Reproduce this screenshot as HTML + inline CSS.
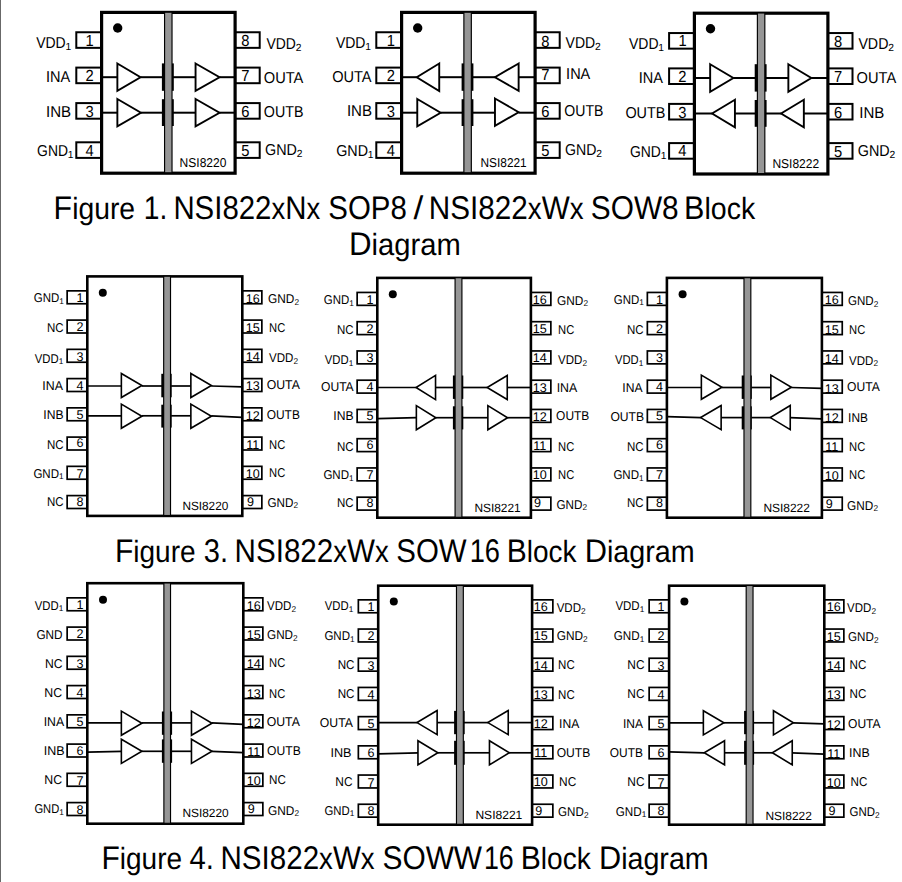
<!DOCTYPE html>
<html lang="en">
<head>
<meta charset="utf-8">
<title>NSI822x Block Diagrams</title>
<style>
html,body{margin:0;padding:0;background:#fff;}
body{width:902px;height:882px;overflow:hidden;position:relative;}
svg{position:absolute;left:0;top:0;display:block;}
svg text{font-family:"Liberation Sans",sans-serif;fill:#000;text-rendering:geometricPrecision;}
.edge{position:absolute;left:0;top:0;width:1px;height:882px;background:#686868;}
</style>
</head>
<body>
<svg width="902" height="882" viewBox="0 0 902 882">
<rect x="76.3" y="32.25" width="25.3" height="15.6" fill="#fff" stroke="#000" stroke-width="2"/>
<rect x="76.3" y="67.6" width="25.3" height="15.6" fill="#fff" stroke="#000" stroke-width="2"/>
<rect x="76.3" y="103.1" width="25.3" height="15.6" fill="#fff" stroke="#000" stroke-width="2"/>
<rect x="76.3" y="142.3" width="25.3" height="15.6" fill="#fff" stroke="#000" stroke-width="2"/>
<rect x="235.1" y="32.25" width="24.6" height="15.6" fill="#fff" stroke="#000" stroke-width="2"/>
<rect x="235.1" y="67.6" width="24.6" height="15.6" fill="#fff" stroke="#000" stroke-width="2"/>
<rect x="235.1" y="103.1" width="24.6" height="15.6" fill="#fff" stroke="#000" stroke-width="2"/>
<rect x="235.1" y="142.3" width="24.6" height="15.6" fill="#fff" stroke="#000" stroke-width="2"/>
<rect x="101.6" y="12.4" width="133.5" height="160.8" fill="#fff" stroke="#000" stroke-width="3.2"/>
<circle cx="117.7" cy="28" r="4.7" fill="#000"/>
<line x1="101.6" y1="77.2" x2="117.7" y2="77.2" stroke="#000" stroke-width="2"/>
<line x1="140.5" y1="77.2" x2="164" y2="77.2" stroke="#000" stroke-width="2"/>
<line x1="172.6" y1="77.2" x2="195.9" y2="77.2" stroke="#000" stroke-width="2"/>
<line x1="219.5" y1="77.2" x2="235.1" y2="77.2" stroke="#000" stroke-width="2"/>
<polygon points="117.37,63.46 140.55,77.2 117.37,90.94" fill="#fff" stroke="#000" stroke-width="1.9" stroke-linejoin="miter"/>
<polygon points="195.56,63.46 219.55,77.2 195.56,90.94" fill="#fff" stroke="#000" stroke-width="1.9" stroke-linejoin="miter"/>
<rect x="161.9" y="63.4" width="11.9" height="27.4" fill="#000" stroke="none" stroke-width="0"/>
<line x1="101.6" y1="112.7" x2="117.7" y2="112.7" stroke="#000" stroke-width="2"/>
<line x1="140.9" y1="112.7" x2="164" y2="112.7" stroke="#000" stroke-width="2"/>
<line x1="172.6" y1="112.7" x2="195.9" y2="112.7" stroke="#000" stroke-width="2"/>
<line x1="219.5" y1="112.7" x2="235.1" y2="112.7" stroke="#000" stroke-width="2"/>
<polygon points="117.37,98.96 140.95,112.7 117.37,126.44" fill="#fff" stroke="#000" stroke-width="1.9" stroke-linejoin="miter"/>
<polygon points="195.56,98.96 219.55,112.7 195.56,126.44" fill="#fff" stroke="#000" stroke-width="1.9" stroke-linejoin="miter"/>
<rect x="161.9" y="99.2" width="11.9" height="26.8" fill="#000" stroke="none" stroke-width="0"/>
<rect x="164.57" y="12.2" width="7.45" height="160.6" fill="#969696" stroke="#000" stroke-width="1.15"/>
<text x="36.2" y="47.9" font-size="15.8" textLength="29.5" lengthAdjust="spacingAndGlyphs">VDD</text>
<text x="71.3" y="49.9" font-size="10.3" text-anchor="end">1</text>
<text x="46" y="81.9" font-size="15.8" textLength="24.2" lengthAdjust="spacingAndGlyphs">INA</text>
<text x="46" y="116.9" font-size="15.8" textLength="25.1" lengthAdjust="spacingAndGlyphs">INB</text>
<text x="37.1" y="155.9" font-size="15.8" textLength="30.9" lengthAdjust="spacingAndGlyphs">GND</text>
<text x="73.6" y="157.9" font-size="10.3" text-anchor="end">1</text>
<text x="266.4" y="48.8" font-size="15.8" textLength="29.4" lengthAdjust="spacingAndGlyphs">VDD</text>
<text x="301.4" y="50.8" font-size="10.3" text-anchor="end">2</text>
<text x="263.8" y="82.6" font-size="15.8" textLength="39.6" lengthAdjust="spacingAndGlyphs">OUTA</text>
<text x="263.8" y="116.9" font-size="15.8" textLength="39.6" lengthAdjust="spacingAndGlyphs">OUTB</text>
<text x="265" y="155.4" font-size="15.8" textLength="31.9" lengthAdjust="spacingAndGlyphs">GND</text>
<text x="302.5" y="157.4" font-size="10.3" text-anchor="end">2</text>
<text x="89.7" y="45.6" font-size="16" text-anchor="middle" textLength="8.19" lengthAdjust="spacingAndGlyphs">1</text>
<text x="89.5" y="80.7" font-size="16" text-anchor="middle" textLength="8.19" lengthAdjust="spacingAndGlyphs">2</text>
<text x="89.5" y="116.9" font-size="16" text-anchor="middle" textLength="8.19" lengthAdjust="spacingAndGlyphs">3</text>
<text x="89.5" y="155.6" font-size="16" text-anchor="middle" textLength="8.19" lengthAdjust="spacingAndGlyphs">4</text>
<text x="245.4" y="45.9" font-size="16" text-anchor="middle" textLength="8.19" lengthAdjust="spacingAndGlyphs">8</text>
<text x="245.4" y="81" font-size="16" text-anchor="middle" textLength="8.19" lengthAdjust="spacingAndGlyphs">7</text>
<text x="245.4" y="116.9" font-size="16" text-anchor="middle" textLength="8.19" lengthAdjust="spacingAndGlyphs">6</text>
<text x="245.4" y="155.9" font-size="16" text-anchor="middle" textLength="8.19" lengthAdjust="spacingAndGlyphs">5</text>
<text x="179.6" y="166.9" font-size="12.8" textLength="46.8" lengthAdjust="spacingAndGlyphs">NSI8220</text>
<rect x="376.3" y="32.25" width="25.3" height="15.6" fill="#fff" stroke="#000" stroke-width="2"/>
<rect x="376.3" y="67.6" width="25.3" height="15.6" fill="#fff" stroke="#000" stroke-width="2"/>
<rect x="376.3" y="103.1" width="25.3" height="15.6" fill="#fff" stroke="#000" stroke-width="2"/>
<rect x="376.3" y="142.3" width="25.3" height="15.6" fill="#fff" stroke="#000" stroke-width="2"/>
<rect x="535.1" y="32.25" width="24.6" height="15.6" fill="#fff" stroke="#000" stroke-width="2"/>
<rect x="535.1" y="67.6" width="24.6" height="15.6" fill="#fff" stroke="#000" stroke-width="2"/>
<rect x="535.1" y="103.1" width="24.6" height="15.6" fill="#fff" stroke="#000" stroke-width="2"/>
<rect x="535.1" y="142.3" width="24.6" height="15.6" fill="#fff" stroke="#000" stroke-width="2"/>
<rect x="401.6" y="12.4" width="133.5" height="160.8" fill="#fff" stroke="#000" stroke-width="3.2"/>
<circle cx="417.7" cy="28" r="4.7" fill="#000"/>
<line x1="401.6" y1="77.2" x2="416.8" y2="77.2" stroke="#000" stroke-width="2"/>
<line x1="438.9" y1="77.2" x2="463.3" y2="77.2" stroke="#000" stroke-width="2"/>
<line x1="471.9" y1="77.2" x2="495" y2="77.2" stroke="#000" stroke-width="2"/>
<line x1="518.3" y1="77.2" x2="535.1" y2="77.2" stroke="#000" stroke-width="2"/>
<polygon points="439.23,63.46 416.75,77.2 439.23,90.94" fill="#fff" stroke="#000" stroke-width="1.9" stroke-linejoin="miter"/>
<polygon points="518.63,63.46 494.95,77.2 518.63,90.94" fill="#fff" stroke="#000" stroke-width="1.9" stroke-linejoin="miter"/>
<rect x="461.6" y="63.4" width="11.8" height="27.4" fill="#000" stroke="none" stroke-width="0"/>
<line x1="401.6" y1="112.7" x2="417.6" y2="112.7" stroke="#000" stroke-width="2"/>
<line x1="440.6" y1="112.7" x2="463.3" y2="112.7" stroke="#000" stroke-width="2"/>
<line x1="471.9" y1="112.7" x2="495.3" y2="112.7" stroke="#000" stroke-width="2"/>
<line x1="518.6" y1="112.7" x2="535.1" y2="112.7" stroke="#000" stroke-width="2"/>
<polygon points="417.27,98.96 440.65,112.7 417.27,126.44" fill="#fff" stroke="#000" stroke-width="1.9" stroke-linejoin="miter"/>
<polygon points="494.97,98.46 518.65,112.2 494.97,125.94" fill="#fff" stroke="#000" stroke-width="1.9" stroke-linejoin="miter"/>
<rect x="461.6" y="99.2" width="11.8" height="26.8" fill="#000" stroke="none" stroke-width="0"/>
<rect x="463.88" y="12.2" width="7.45" height="160.6" fill="#969696" stroke="#000" stroke-width="1.15"/>
<text x="335.9" y="47.9" font-size="15.8" textLength="29.6" lengthAdjust="spacingAndGlyphs">VDD</text>
<text x="371.1" y="49.9" font-size="10.3" text-anchor="end">1</text>
<text x="332.2" y="81.9" font-size="15.8" textLength="39.4" lengthAdjust="spacingAndGlyphs">OUTA</text>
<text x="346.9" y="115.7" font-size="15.8" textLength="25.1" lengthAdjust="spacingAndGlyphs">INB</text>
<text x="336.2" y="155.9" font-size="15.8" textLength="31.8" lengthAdjust="spacingAndGlyphs">GND</text>
<text x="373.6" y="157.9" font-size="10.3" text-anchor="end">1</text>
<text x="565.6" y="48.2" font-size="15.8" textLength="29.6" lengthAdjust="spacingAndGlyphs">VDD</text>
<text x="600.8" y="50.2" font-size="10.3" text-anchor="end">2</text>
<text x="566.1" y="79.4" font-size="15.8" textLength="24.2" lengthAdjust="spacingAndGlyphs">INA</text>
<text x="564.3" y="115.7" font-size="15.8" textLength="39.1" lengthAdjust="spacingAndGlyphs">OUTB</text>
<text x="565" y="155.4" font-size="15.8" textLength="31.4" lengthAdjust="spacingAndGlyphs">GND</text>
<text x="602" y="157.4" font-size="10.3" text-anchor="end">2</text>
<text x="390.8" y="45.6" font-size="16" text-anchor="middle" textLength="8.19" lengthAdjust="spacingAndGlyphs">1</text>
<text x="390.8" y="80.7" font-size="16" text-anchor="middle" textLength="8.19" lengthAdjust="spacingAndGlyphs">2</text>
<text x="390.8" y="116.9" font-size="16" text-anchor="middle" textLength="8.19" lengthAdjust="spacingAndGlyphs">3</text>
<text x="390.8" y="155.6" font-size="16" text-anchor="middle" textLength="8.19" lengthAdjust="spacingAndGlyphs">4</text>
<text x="545.4" y="46.5" font-size="16" text-anchor="middle" textLength="8.19" lengthAdjust="spacingAndGlyphs">8</text>
<text x="545.4" y="80.3" font-size="16" text-anchor="middle" textLength="8.19" lengthAdjust="spacingAndGlyphs">7</text>
<text x="545.4" y="116.9" font-size="16" text-anchor="middle" textLength="8.19" lengthAdjust="spacingAndGlyphs">6</text>
<text x="545.4" y="155.9" font-size="16" text-anchor="middle" textLength="8.19" lengthAdjust="spacingAndGlyphs">5</text>
<text x="480.5" y="167.1" font-size="12.8" textLength="46.2" lengthAdjust="spacingAndGlyphs">NSI8221</text>
<rect x="669.1" y="33.05" width="25.3" height="15.6" fill="#fff" stroke="#000" stroke-width="2"/>
<rect x="669.1" y="68.4" width="25.3" height="15.6" fill="#fff" stroke="#000" stroke-width="2"/>
<rect x="669.1" y="103.9" width="25.3" height="15.6" fill="#fff" stroke="#000" stroke-width="2"/>
<rect x="669.1" y="143.1" width="25.3" height="15.6" fill="#fff" stroke="#000" stroke-width="2"/>
<rect x="827.9" y="33.05" width="24.6" height="15.6" fill="#fff" stroke="#000" stroke-width="2"/>
<rect x="827.9" y="68.4" width="24.6" height="15.6" fill="#fff" stroke="#000" stroke-width="2"/>
<rect x="827.9" y="103.9" width="24.6" height="15.6" fill="#fff" stroke="#000" stroke-width="2"/>
<rect x="827.9" y="143.1" width="24.6" height="15.6" fill="#fff" stroke="#000" stroke-width="2"/>
<rect x="694.4" y="13.2" width="133.5" height="160.8" fill="#fff" stroke="#000" stroke-width="3.2"/>
<circle cx="710.5" cy="28.8" r="4.7" fill="#000"/>
<line x1="694.4" y1="78" x2="710.5" y2="78" stroke="#000" stroke-width="2"/>
<line x1="733.3" y1="78" x2="756.8" y2="78" stroke="#000" stroke-width="2"/>
<line x1="765.4" y1="78" x2="788.7" y2="78" stroke="#000" stroke-width="2"/>
<line x1="811.3" y1="78" x2="827.9" y2="78" stroke="#000" stroke-width="2"/>
<polygon points="710.16,64.26 733.35,78 710.16,91.74" fill="#fff" stroke="#000" stroke-width="1.9" stroke-linejoin="miter"/>
<polygon points="788.36,64.26 811.35,78 788.36,91.74" fill="#fff" stroke="#000" stroke-width="1.9" stroke-linejoin="miter"/>
<rect x="754.7" y="64.2" width="11.9" height="27.4" fill="#000" stroke="none" stroke-width="0"/>
<line x1="694.4" y1="113.5" x2="712.1" y2="113.5" stroke="#000" stroke-width="2"/>
<line x1="734.6" y1="113.5" x2="756.8" y2="113.5" stroke="#000" stroke-width="2"/>
<line x1="765.4" y1="113.5" x2="781.1" y2="113.5" stroke="#000" stroke-width="2"/>
<line x1="803.5" y1="113.5" x2="827.9" y2="113.5" stroke="#000" stroke-width="2"/>
<polygon points="734.93,99.76 712.05,113.5 734.93,127.24" fill="#fff" stroke="#000" stroke-width="1.9" stroke-linejoin="miter"/>
<polygon points="803.84,99.76 781.05,113.5 803.84,127.24" fill="#fff" stroke="#000" stroke-width="1.9" stroke-linejoin="miter"/>
<rect x="754.7" y="100" width="11.9" height="26.8" fill="#000" stroke="none" stroke-width="0"/>
<rect x="757.38" y="13" width="7.45" height="160.6" fill="#969696" stroke="#000" stroke-width="1.15"/>
<text x="629" y="48.7" font-size="15.8" textLength="29.5" lengthAdjust="spacingAndGlyphs">VDD</text>
<text x="664.1" y="50.7" font-size="10.3" text-anchor="end">1</text>
<text x="638.8" y="82.7" font-size="15.8" textLength="24.2" lengthAdjust="spacingAndGlyphs">INA</text>
<text x="625.4" y="117.7" font-size="15.8" textLength="40" lengthAdjust="spacingAndGlyphs">OUTB</text>
<text x="629.9" y="156.7" font-size="15.8" textLength="30.9" lengthAdjust="spacingAndGlyphs">GND</text>
<text x="666.4" y="158.7" font-size="10.3" text-anchor="end">1</text>
<text x="858.4" y="49" font-size="15.8" textLength="30" lengthAdjust="spacingAndGlyphs">VDD</text>
<text x="894" y="51" font-size="10.3" text-anchor="end">2</text>
<text x="856.6" y="83.4" font-size="15.8" textLength="39.6" lengthAdjust="spacingAndGlyphs">OUTA</text>
<text x="859.3" y="117.7" font-size="15.8" textLength="25.1" lengthAdjust="spacingAndGlyphs">INB</text>
<text x="857.8" y="156.2" font-size="15.8" textLength="31.9" lengthAdjust="spacingAndGlyphs">GND</text>
<text x="895.3" y="158.2" font-size="10.3" text-anchor="end">2</text>
<text x="682.5" y="46.4" font-size="16" text-anchor="middle" textLength="8.19" lengthAdjust="spacingAndGlyphs">1</text>
<text x="682.3" y="81.5" font-size="16" text-anchor="middle" textLength="8.19" lengthAdjust="spacingAndGlyphs">2</text>
<text x="682.3" y="117.7" font-size="16" text-anchor="middle" textLength="8.19" lengthAdjust="spacingAndGlyphs">3</text>
<text x="682.3" y="156.4" font-size="16" text-anchor="middle" textLength="8.19" lengthAdjust="spacingAndGlyphs">4</text>
<text x="838.2" y="47.3" font-size="16" text-anchor="middle" textLength="8.19" lengthAdjust="spacingAndGlyphs">8</text>
<text x="838.2" y="81.8" font-size="16" text-anchor="middle" textLength="8.19" lengthAdjust="spacingAndGlyphs">7</text>
<text x="838.2" y="117.7" font-size="16" text-anchor="middle" textLength="8.19" lengthAdjust="spacingAndGlyphs">6</text>
<text x="838.2" y="156.7" font-size="16" text-anchor="middle" textLength="8.19" lengthAdjust="spacingAndGlyphs">5</text>
<text x="772.4" y="167.7" font-size="12.8" textLength="46.8" lengthAdjust="spacingAndGlyphs">NSI8222</text>
<rect x="67.15" y="290.85" width="20.15" height="12.9" fill="#fff" stroke="#000" stroke-width="1.7"/>
<rect x="67.15" y="320.1" width="20.15" height="12.9" fill="#fff" stroke="#000" stroke-width="1.7"/>
<rect x="67.15" y="349.35" width="20.15" height="12.9" fill="#fff" stroke="#000" stroke-width="1.7"/>
<rect x="67.15" y="378.6" width="20.15" height="12.9" fill="#fff" stroke="#000" stroke-width="1.7"/>
<rect x="67.15" y="407.85" width="20.15" height="12.9" fill="#fff" stroke="#000" stroke-width="1.7"/>
<rect x="67.15" y="437.1" width="20.15" height="12.9" fill="#fff" stroke="#000" stroke-width="1.7"/>
<rect x="67.15" y="466.35" width="20.15" height="12.9" fill="#fff" stroke="#000" stroke-width="1.7"/>
<rect x="67.15" y="495.6" width="20.15" height="12.9" fill="#fff" stroke="#000" stroke-width="1.7"/>
<rect x="242.3" y="290.85" width="19.55" height="12.9" fill="#fff" stroke="#000" stroke-width="1.7"/>
<rect x="242.3" y="320.1" width="19.55" height="12.9" fill="#fff" stroke="#000" stroke-width="1.7"/>
<rect x="242.3" y="349.35" width="19.55" height="12.9" fill="#fff" stroke="#000" stroke-width="1.7"/>
<rect x="242.3" y="378.6" width="19.55" height="12.9" fill="#fff" stroke="#000" stroke-width="1.7"/>
<rect x="242.3" y="407.85" width="19.55" height="12.9" fill="#fff" stroke="#000" stroke-width="1.7"/>
<rect x="242.3" y="437.1" width="19.55" height="12.9" fill="#fff" stroke="#000" stroke-width="1.7"/>
<rect x="242.3" y="466.35" width="19.55" height="12.9" fill="#fff" stroke="#000" stroke-width="1.7"/>
<rect x="242.3" y="495.6" width="19.55" height="12.9" fill="#fff" stroke="#000" stroke-width="1.7"/>
<rect x="87.3" y="276.4" width="155" height="239.5" fill="#fff" stroke="#000" stroke-width="2.6"/>
<circle cx="102.8" cy="292.7" r="4" fill="#000"/>
<line x1="87.3" y1="386" x2="121.8" y2="386" stroke="#000" stroke-width="1.7"/>
<line x1="141.7" y1="386" x2="163.1" y2="386" stroke="#000" stroke-width="1.7"/>
<line x1="171.1" y1="386" x2="191.3" y2="386" stroke="#000" stroke-width="1.7"/>
<line x1="211.2" y1="386" x2="242.3" y2="386.8" stroke="#000" stroke-width="1.7"/>
<polygon points="121.36,373.44 141.9,385.5 121.36,397.56" fill="#fff" stroke="#000" stroke-width="1.6" stroke-linejoin="miter"/>
<polygon points="190.86,373.44 211.4,385.5 190.86,397.56" fill="#fff" stroke="#000" stroke-width="1.6" stroke-linejoin="miter"/>
<rect x="161.3" y="373.8" width="10.4" height="23.5" fill="#000" stroke="none" stroke-width="0"/>
<line x1="87.3" y1="415.8" x2="121.8" y2="415.8" stroke="#000" stroke-width="1.7"/>
<line x1="141.7" y1="415.8" x2="163.1" y2="415.8" stroke="#000" stroke-width="1.7"/>
<line x1="171.1" y1="415.8" x2="191.3" y2="415.8" stroke="#000" stroke-width="1.7"/>
<line x1="211.2" y1="415.8" x2="242.3" y2="417.3" stroke="#000" stroke-width="1.7"/>
<polygon points="121.36,404.14 141.9,416.2 121.36,428.26" fill="#fff" stroke="#000" stroke-width="1.6" stroke-linejoin="miter"/>
<polygon points="190.86,404.14 211.4,416.2 190.86,428.26" fill="#fff" stroke="#000" stroke-width="1.6" stroke-linejoin="miter"/>
<rect x="161.3" y="404.7" width="10.4" height="22.9" fill="#000" stroke="none" stroke-width="0"/>
<rect x="163.67" y="276.2" width="6.85" height="239.3" fill="#969696" stroke="#000" stroke-width="1.15"/>
<text x="33.8" y="302.3" font-size="12.8" textLength="25.4" lengthAdjust="spacingAndGlyphs">GND</text>
<text x="63.9" y="303.9" font-size="8.3" text-anchor="end">1</text>
<text x="46.9" y="331.9" font-size="12.8" textLength="16.6" lengthAdjust="spacingAndGlyphs">NC</text>
<text x="34.8" y="362.8" font-size="12.8" textLength="23.8" lengthAdjust="spacingAndGlyphs">VDD</text>
<text x="63.3" y="364.4" font-size="8.3" text-anchor="end">1</text>
<text x="42.3" y="390.1" font-size="12.8" textLength="20.6" lengthAdjust="spacingAndGlyphs">INA</text>
<text x="43.3" y="419.1" font-size="12.8" textLength="20.2" lengthAdjust="spacingAndGlyphs">INB</text>
<text x="46.9" y="449.2" font-size="12.8" textLength="16.6" lengthAdjust="spacingAndGlyphs">NC</text>
<text x="33.4" y="477.7" font-size="12.8" textLength="25.6" lengthAdjust="spacingAndGlyphs">GND</text>
<text x="63.7" y="479.3" font-size="8.3" text-anchor="end">1</text>
<text x="46.9" y="505.7" font-size="12.8" textLength="16.6" lengthAdjust="spacingAndGlyphs">NC</text>
<text x="268.1" y="302.9" font-size="12.8" textLength="26.3" lengthAdjust="spacingAndGlyphs">GND</text>
<text x="299.1" y="304.5" font-size="8.3" text-anchor="end">2</text>
<text x="269.1" y="331.9" font-size="12.8" textLength="16.2" lengthAdjust="spacingAndGlyphs">NC</text>
<text x="269.1" y="362.2" font-size="12.8" textLength="24.3" lengthAdjust="spacingAndGlyphs">VDD</text>
<text x="298.1" y="363.8" font-size="8.3" text-anchor="end">2</text>
<text x="266.7" y="389.1" font-size="12.8" textLength="33.2" lengthAdjust="spacingAndGlyphs">OUTA</text>
<text x="266.7" y="418.7" font-size="12.8" textLength="33.2" lengthAdjust="spacingAndGlyphs">OUTB</text>
<text x="269.1" y="449.4" font-size="12.8" textLength="16.2" lengthAdjust="spacingAndGlyphs">NC</text>
<text x="269.1" y="476.7" font-size="12.8" textLength="16.2" lengthAdjust="spacingAndGlyphs">NC</text>
<text x="267.5" y="506.7" font-size="12.8" textLength="25.9" lengthAdjust="spacingAndGlyphs">GND</text>
<text x="298.1" y="508.3" font-size="8.3" text-anchor="end">2</text>
<text x="79.9" y="301.9" font-size="12.6" text-anchor="middle" textLength="7.01" lengthAdjust="spacingAndGlyphs">1</text>
<text x="79.9" y="330.9" font-size="12.6" text-anchor="middle" textLength="7.01" lengthAdjust="spacingAndGlyphs">2</text>
<text x="79.9" y="360.8" font-size="12.6" text-anchor="middle" textLength="7.01" lengthAdjust="spacingAndGlyphs">3</text>
<text x="79.9" y="389.7" font-size="12.6" text-anchor="middle" textLength="7.01" lengthAdjust="spacingAndGlyphs">4</text>
<text x="79.9" y="418.7" font-size="12.6" text-anchor="middle" textLength="7.01" lengthAdjust="spacingAndGlyphs">5</text>
<text x="79.9" y="447.4" font-size="12.6" text-anchor="middle" textLength="7.01" lengthAdjust="spacingAndGlyphs">6</text>
<text x="79.9" y="477.7" font-size="12.6" text-anchor="middle" textLength="7.01" lengthAdjust="spacingAndGlyphs">7</text>
<text x="79.9" y="505.7" font-size="12.6" text-anchor="middle" textLength="7.01" lengthAdjust="spacingAndGlyphs">8</text>
<text x="252.8" y="302.9" font-size="12.6" text-anchor="middle" textLength="14.02" lengthAdjust="spacingAndGlyphs">16</text>
<text x="252.8" y="331.9" font-size="12.6" text-anchor="middle" textLength="14.02" lengthAdjust="spacingAndGlyphs">15</text>
<text x="252.8" y="360.8" font-size="12.6" text-anchor="middle" textLength="14.02" lengthAdjust="spacingAndGlyphs">14</text>
<text x="252.8" y="390.1" font-size="12.6" text-anchor="middle" textLength="14.02" lengthAdjust="spacingAndGlyphs">13</text>
<text x="252.8" y="419.7" font-size="12.6" text-anchor="middle" textLength="14.02" lengthAdjust="spacingAndGlyphs">12</text>
<text x="252.8" y="448.8" font-size="12.6" text-anchor="middle" textLength="13.08" lengthAdjust="spacingAndGlyphs">11</text>
<text x="252.8" y="477.7" font-size="12.6" text-anchor="middle" textLength="14.02" lengthAdjust="spacingAndGlyphs">10</text>
<text x="250.4" y="506" font-size="12.6" text-anchor="middle" textLength="7.01" lengthAdjust="spacingAndGlyphs">9</text>
<text x="182.4" y="509.6" font-size="12" textLength="45.9" lengthAdjust="spacingAndGlyphs">NSI8220</text>
<rect x="357.15" y="292.45" width="20.15" height="12.9" fill="#fff" stroke="#000" stroke-width="1.7"/>
<rect x="357.15" y="321.7" width="20.15" height="12.9" fill="#fff" stroke="#000" stroke-width="1.7"/>
<rect x="357.15" y="350.95" width="20.15" height="12.9" fill="#fff" stroke="#000" stroke-width="1.7"/>
<rect x="357.15" y="380.2" width="20.15" height="12.9" fill="#fff" stroke="#000" stroke-width="1.7"/>
<rect x="357.15" y="409.45" width="20.15" height="12.9" fill="#fff" stroke="#000" stroke-width="1.7"/>
<rect x="357.15" y="438.7" width="20.15" height="12.9" fill="#fff" stroke="#000" stroke-width="1.7"/>
<rect x="357.15" y="467.95" width="20.15" height="12.9" fill="#fff" stroke="#000" stroke-width="1.7"/>
<rect x="357.15" y="497.2" width="20.15" height="12.9" fill="#fff" stroke="#000" stroke-width="1.7"/>
<rect x="530.9" y="292.45" width="19.95" height="12.9" fill="#fff" stroke="#000" stroke-width="1.7"/>
<rect x="530.9" y="321.7" width="19.95" height="12.9" fill="#fff" stroke="#000" stroke-width="1.7"/>
<rect x="530.9" y="350.95" width="19.95" height="12.9" fill="#fff" stroke="#000" stroke-width="1.7"/>
<rect x="530.9" y="380.2" width="19.95" height="12.9" fill="#fff" stroke="#000" stroke-width="1.7"/>
<rect x="530.9" y="409.45" width="19.95" height="12.9" fill="#fff" stroke="#000" stroke-width="1.7"/>
<rect x="530.9" y="438.7" width="19.95" height="12.9" fill="#fff" stroke="#000" stroke-width="1.7"/>
<rect x="530.9" y="467.95" width="19.95" height="12.9" fill="#fff" stroke="#000" stroke-width="1.7"/>
<rect x="530.9" y="497.2" width="19.95" height="12.9" fill="#fff" stroke="#000" stroke-width="1.7"/>
<rect x="377.3" y="277.9" width="153.6" height="239.8" fill="#fff" stroke="#000" stroke-width="2.6"/>
<circle cx="392.8" cy="294.3" r="4" fill="#000"/>
<line x1="377.3" y1="387.5" x2="416.2" y2="387.5" stroke="#000" stroke-width="1.7"/>
<line x1="435.1" y1="387.5" x2="454.5" y2="387.5" stroke="#000" stroke-width="1.7"/>
<line x1="462.5" y1="387.5" x2="487.3" y2="387.5" stroke="#000" stroke-width="1.7"/>
<line x1="506.8" y1="387.5" x2="530.9" y2="387.5" stroke="#000" stroke-width="1.7"/>
<polygon points="435.54,375.44 416,387.5 435.54,399.56" fill="#fff" stroke="#000" stroke-width="1.6" stroke-linejoin="miter"/>
<polygon points="507.24,375.44 487.1,387.5 507.24,399.56" fill="#fff" stroke="#000" stroke-width="1.6" stroke-linejoin="miter"/>
<rect x="452.9" y="375.5" width="10.4" height="23.4" fill="#000" stroke="none" stroke-width="0"/>
<line x1="377.3" y1="418.6" x2="416.8" y2="417.7" stroke="#000" stroke-width="1.7"/>
<line x1="435.7" y1="417.7" x2="454.5" y2="417.7" stroke="#000" stroke-width="1.7"/>
<line x1="462.5" y1="417.7" x2="488.3" y2="417.7" stroke="#000" stroke-width="1.7"/>
<line x1="507.4" y1="417.7" x2="530.9" y2="417.7" stroke="#000" stroke-width="1.7"/>
<polygon points="416.36,405.64 435.9,417.7 416.36,429.76" fill="#fff" stroke="#000" stroke-width="1.6" stroke-linejoin="miter"/>
<polygon points="487.86,405.64 507.6,417.7 487.86,429.76" fill="#fff" stroke="#000" stroke-width="1.6" stroke-linejoin="miter"/>
<rect x="452.9" y="406.3" width="10.4" height="23.1" fill="#000" stroke="none" stroke-width="0"/>
<rect x="455.07" y="277.7" width="6.85" height="239.6" fill="#969696" stroke="#000" stroke-width="1.15"/>
<text x="323.8" y="303.9" font-size="12.8" textLength="25.4" lengthAdjust="spacingAndGlyphs">GND</text>
<text x="353.9" y="305.5" font-size="8.3" text-anchor="end">1</text>
<text x="336.9" y="333.5" font-size="12.8" textLength="16.6" lengthAdjust="spacingAndGlyphs">NC</text>
<text x="324.8" y="364.4" font-size="12.8" textLength="23.8" lengthAdjust="spacingAndGlyphs">VDD</text>
<text x="353.3" y="366" font-size="8.3" text-anchor="end">1</text>
<text x="321" y="391.3" font-size="12.8" textLength="32.7" lengthAdjust="spacingAndGlyphs">OUTA</text>
<text x="333.3" y="420.3" font-size="12.8" textLength="20.2" lengthAdjust="spacingAndGlyphs">INB</text>
<text x="336.9" y="450.8" font-size="12.8" textLength="16.6" lengthAdjust="spacingAndGlyphs">NC</text>
<text x="323.4" y="479.3" font-size="12.8" textLength="25.6" lengthAdjust="spacingAndGlyphs">GND</text>
<text x="353.7" y="480.9" font-size="8.3" text-anchor="end">1</text>
<text x="336.9" y="507.3" font-size="12.8" textLength="16.6" lengthAdjust="spacingAndGlyphs">NC</text>
<text x="557.1" y="304.5" font-size="12.8" textLength="26.3" lengthAdjust="spacingAndGlyphs">GND</text>
<text x="588.1" y="306.1" font-size="8.3" text-anchor="end">2</text>
<text x="558.1" y="333.5" font-size="12.8" textLength="16.2" lengthAdjust="spacingAndGlyphs">NC</text>
<text x="558.1" y="364.2" font-size="12.8" textLength="24.3" lengthAdjust="spacingAndGlyphs">VDD</text>
<text x="587.1" y="365.8" font-size="8.3" text-anchor="end">2</text>
<text x="556.7" y="391.7" font-size="12.8" textLength="20.6" lengthAdjust="spacingAndGlyphs">INA</text>
<text x="556.1" y="419.7" font-size="12.8" textLength="33.2" lengthAdjust="spacingAndGlyphs">OUTB</text>
<text x="558.1" y="451" font-size="12.8" textLength="16.2" lengthAdjust="spacingAndGlyphs">NC</text>
<text x="558.1" y="478.9" font-size="12.8" textLength="16.2" lengthAdjust="spacingAndGlyphs">NC</text>
<text x="556.5" y="508.7" font-size="12.8" textLength="25.9" lengthAdjust="spacingAndGlyphs">GND</text>
<text x="587.1" y="510.3" font-size="8.3" text-anchor="end">2</text>
<text x="369.9" y="303.5" font-size="12.6" text-anchor="middle" textLength="7.01" lengthAdjust="spacingAndGlyphs">1</text>
<text x="369.9" y="332.5" font-size="12.6" text-anchor="middle" textLength="7.01" lengthAdjust="spacingAndGlyphs">2</text>
<text x="369.9" y="362.4" font-size="12.6" text-anchor="middle" textLength="7.01" lengthAdjust="spacingAndGlyphs">3</text>
<text x="369.9" y="391.3" font-size="12.6" text-anchor="middle" textLength="7.01" lengthAdjust="spacingAndGlyphs">4</text>
<text x="369.9" y="420.3" font-size="12.6" text-anchor="middle" textLength="7.01" lengthAdjust="spacingAndGlyphs">5</text>
<text x="369.9" y="449" font-size="12.6" text-anchor="middle" textLength="7.01" lengthAdjust="spacingAndGlyphs">6</text>
<text x="369.9" y="479.3" font-size="12.6" text-anchor="middle" textLength="7.01" lengthAdjust="spacingAndGlyphs">7</text>
<text x="369.9" y="507.3" font-size="12.6" text-anchor="middle" textLength="7.01" lengthAdjust="spacingAndGlyphs">8</text>
<text x="539.8" y="303.9" font-size="12.6" text-anchor="middle" textLength="14.02" lengthAdjust="spacingAndGlyphs">16</text>
<text x="539.8" y="332.9" font-size="12.6" text-anchor="middle" textLength="14.02" lengthAdjust="spacingAndGlyphs">15</text>
<text x="539.8" y="362.4" font-size="12.6" text-anchor="middle" textLength="14.02" lengthAdjust="spacingAndGlyphs">14</text>
<text x="539.8" y="391.7" font-size="12.6" text-anchor="middle" textLength="14.02" lengthAdjust="spacingAndGlyphs">13</text>
<text x="539.8" y="420.7" font-size="12.6" text-anchor="middle" textLength="14.02" lengthAdjust="spacingAndGlyphs">12</text>
<text x="539.8" y="450" font-size="12.6" text-anchor="middle" textLength="13.08" lengthAdjust="spacingAndGlyphs">11</text>
<text x="539.8" y="478.9" font-size="12.6" text-anchor="middle" textLength="14.02" lengthAdjust="spacingAndGlyphs">10</text>
<text x="537.4" y="506.8" font-size="12.6" text-anchor="middle" textLength="7.01" lengthAdjust="spacingAndGlyphs">9</text>
<text x="474.4" y="511.6" font-size="12" textLength="46.3" lengthAdjust="spacingAndGlyphs">NSI8221</text>
<rect x="647.35" y="292.45" width="19.55" height="12.9" fill="#fff" stroke="#000" stroke-width="1.7"/>
<rect x="647.35" y="321.7" width="19.55" height="12.9" fill="#fff" stroke="#000" stroke-width="1.7"/>
<rect x="647.35" y="350.95" width="19.55" height="12.9" fill="#fff" stroke="#000" stroke-width="1.7"/>
<rect x="647.35" y="380.2" width="19.55" height="12.9" fill="#fff" stroke="#000" stroke-width="1.7"/>
<rect x="647.35" y="409.45" width="19.55" height="12.9" fill="#fff" stroke="#000" stroke-width="1.7"/>
<rect x="647.35" y="438.7" width="19.55" height="12.9" fill="#fff" stroke="#000" stroke-width="1.7"/>
<rect x="647.35" y="467.95" width="19.55" height="12.9" fill="#fff" stroke="#000" stroke-width="1.7"/>
<rect x="647.35" y="497.2" width="19.55" height="12.9" fill="#fff" stroke="#000" stroke-width="1.7"/>
<rect x="821.9" y="292.45" width="20.35" height="12.9" fill="#fff" stroke="#000" stroke-width="1.7"/>
<rect x="821.9" y="321.7" width="20.35" height="12.9" fill="#fff" stroke="#000" stroke-width="1.7"/>
<rect x="821.9" y="350.95" width="20.35" height="12.9" fill="#fff" stroke="#000" stroke-width="1.7"/>
<rect x="821.9" y="380.2" width="20.35" height="12.9" fill="#fff" stroke="#000" stroke-width="1.7"/>
<rect x="821.9" y="409.45" width="20.35" height="12.9" fill="#fff" stroke="#000" stroke-width="1.7"/>
<rect x="821.9" y="438.7" width="20.35" height="12.9" fill="#fff" stroke="#000" stroke-width="1.7"/>
<rect x="821.9" y="467.95" width="20.35" height="12.9" fill="#fff" stroke="#000" stroke-width="1.7"/>
<rect x="821.9" y="497.2" width="20.35" height="12.9" fill="#fff" stroke="#000" stroke-width="1.7"/>
<rect x="666.9" y="277.9" width="155" height="239.8" fill="#fff" stroke="#000" stroke-width="2.6"/>
<circle cx="682.6" cy="294.3" r="4" fill="#000"/>
<line x1="666.9" y1="387.5" x2="701.8" y2="387.5" stroke="#000" stroke-width="1.7"/>
<line x1="721.7" y1="387.5" x2="743.4" y2="387.5" stroke="#000" stroke-width="1.7"/>
<line x1="751.4" y1="387.5" x2="771.3" y2="387.5" stroke="#000" stroke-width="1.7"/>
<line x1="791.2" y1="387.5" x2="821.9" y2="388.4" stroke="#000" stroke-width="1.7"/>
<polygon points="701.36,375.14 721.9,387.2 701.36,399.26" fill="#fff" stroke="#000" stroke-width="1.6" stroke-linejoin="miter"/>
<polygon points="770.86,375.14 791.4,387.2 770.86,399.26" fill="#fff" stroke="#000" stroke-width="1.6" stroke-linejoin="miter"/>
<rect x="741.7" y="375.5" width="10.1" height="23.4" fill="#000" stroke="none" stroke-width="0"/>
<line x1="666.9" y1="416.7" x2="700.8" y2="417.6" stroke="#000" stroke-width="1.7"/>
<line x1="720.7" y1="417.6" x2="743.4" y2="417.6" stroke="#000" stroke-width="1.7"/>
<line x1="751.4" y1="417.6" x2="770.5" y2="417.6" stroke="#000" stroke-width="1.7"/>
<line x1="789.8" y1="417.6" x2="821.9" y2="418.8" stroke="#000" stroke-width="1.7"/>
<polygon points="721.14,405.54 700.6,417.6 721.14,429.66" fill="#fff" stroke="#000" stroke-width="1.6" stroke-linejoin="miter"/>
<polygon points="790.24,405.54 770.3,417.6 790.24,429.66" fill="#fff" stroke="#000" stroke-width="1.6" stroke-linejoin="miter"/>
<rect x="741.7" y="406.3" width="10.1" height="23.1" fill="#000" stroke="none" stroke-width="0"/>
<rect x="743.98" y="277.7" width="6.85" height="239.6" fill="#969696" stroke="#000" stroke-width="1.15"/>
<text x="613.8" y="303.5" font-size="12.8" textLength="25.4" lengthAdjust="spacingAndGlyphs">GND</text>
<text x="643.9" y="305.1" font-size="8.3" text-anchor="end">1</text>
<text x="626.9" y="333.5" font-size="12.8" textLength="16.6" lengthAdjust="spacingAndGlyphs">NC</text>
<text x="615" y="364.4" font-size="12.8" textLength="23.6" lengthAdjust="spacingAndGlyphs">VDD</text>
<text x="643.3" y="366" font-size="8.3" text-anchor="end">1</text>
<text x="622.3" y="391.7" font-size="12.8" textLength="20.2" lengthAdjust="spacingAndGlyphs">INA</text>
<text x="610.4" y="420.7" font-size="12.8" textLength="33.7" lengthAdjust="spacingAndGlyphs">OUTB</text>
<text x="626.9" y="450.8" font-size="12.8" textLength="16.6" lengthAdjust="spacingAndGlyphs">NC</text>
<text x="613.4" y="479.3" font-size="12.8" textLength="25.6" lengthAdjust="spacingAndGlyphs">GND</text>
<text x="643.7" y="480.9" font-size="8.3" text-anchor="end">1</text>
<text x="626.9" y="507.3" font-size="12.8" textLength="16.6" lengthAdjust="spacingAndGlyphs">NC</text>
<text x="848.1" y="304.9" font-size="12.8" textLength="25.6" lengthAdjust="spacingAndGlyphs">GND</text>
<text x="878.4" y="306.5" font-size="8.3" text-anchor="end">2</text>
<text x="849.1" y="333.9" font-size="12.8" textLength="16.2" lengthAdjust="spacingAndGlyphs">NC</text>
<text x="849.1" y="364.8" font-size="12.8" textLength="24.2" lengthAdjust="spacingAndGlyphs">VDD</text>
<text x="878" y="366.4" font-size="8.3" text-anchor="end">2</text>
<text x="847.1" y="390.7" font-size="12.8" textLength="32.7" lengthAdjust="spacingAndGlyphs">OUTA</text>
<text x="848.1" y="421.7" font-size="12.8" textLength="19.8" lengthAdjust="spacingAndGlyphs">INB</text>
<text x="849.1" y="451" font-size="12.8" textLength="16.2" lengthAdjust="spacingAndGlyphs">NC</text>
<text x="849.1" y="478.9" font-size="12.8" textLength="16.2" lengthAdjust="spacingAndGlyphs">NC</text>
<text x="847.1" y="509.6" font-size="12.8" textLength="26.2" lengthAdjust="spacingAndGlyphs">GND</text>
<text x="878" y="511.2" font-size="8.3" text-anchor="end">2</text>
<text x="659.5" y="303.5" font-size="12.6" text-anchor="middle" textLength="7.01" lengthAdjust="spacingAndGlyphs">1</text>
<text x="659.5" y="332.5" font-size="12.6" text-anchor="middle" textLength="7.01" lengthAdjust="spacingAndGlyphs">2</text>
<text x="659.5" y="362.4" font-size="12.6" text-anchor="middle" textLength="7.01" lengthAdjust="spacingAndGlyphs">3</text>
<text x="659.5" y="391.3" font-size="12.6" text-anchor="middle" textLength="7.01" lengthAdjust="spacingAndGlyphs">4</text>
<text x="659.5" y="420.3" font-size="12.6" text-anchor="middle" textLength="7.01" lengthAdjust="spacingAndGlyphs">5</text>
<text x="659.5" y="449" font-size="12.6" text-anchor="middle" textLength="7.01" lengthAdjust="spacingAndGlyphs">6</text>
<text x="659.5" y="479.3" font-size="12.6" text-anchor="middle" textLength="7.01" lengthAdjust="spacingAndGlyphs">7</text>
<text x="659.5" y="507.3" font-size="12.6" text-anchor="middle" textLength="7.01" lengthAdjust="spacingAndGlyphs">8</text>
<text x="831.7" y="304.3" font-size="12.6" text-anchor="middle" textLength="14.02" lengthAdjust="spacingAndGlyphs">16</text>
<text x="831.7" y="333.9" font-size="12.6" text-anchor="middle" textLength="14.02" lengthAdjust="spacingAndGlyphs">15</text>
<text x="831.7" y="363.4" font-size="12.6" text-anchor="middle" textLength="14.02" lengthAdjust="spacingAndGlyphs">14</text>
<text x="831.7" y="392.7" font-size="12.6" text-anchor="middle" textLength="14.02" lengthAdjust="spacingAndGlyphs">13</text>
<text x="831.7" y="421.7" font-size="12.6" text-anchor="middle" textLength="14.02" lengthAdjust="spacingAndGlyphs">12</text>
<text x="831.7" y="451" font-size="12.6" text-anchor="middle" textLength="13.08" lengthAdjust="spacingAndGlyphs">11</text>
<text x="831.7" y="479.9" font-size="12.6" text-anchor="middle" textLength="14.02" lengthAdjust="spacingAndGlyphs">10</text>
<text x="829.3" y="507.8" font-size="12.6" text-anchor="middle" textLength="7.01" lengthAdjust="spacingAndGlyphs">9</text>
<text x="763.4" y="511.6" font-size="12" textLength="46.5" lengthAdjust="spacingAndGlyphs">NSI8222</text>
<rect x="67.15" y="597.85" width="20.15" height="12.9" fill="#fff" stroke="#000" stroke-width="1.7"/>
<rect x="67.15" y="627.1" width="20.15" height="12.9" fill="#fff" stroke="#000" stroke-width="1.7"/>
<rect x="67.15" y="656.35" width="20.15" height="12.9" fill="#fff" stroke="#000" stroke-width="1.7"/>
<rect x="67.15" y="685.6" width="20.15" height="12.9" fill="#fff" stroke="#000" stroke-width="1.7"/>
<rect x="67.15" y="714.85" width="20.15" height="12.9" fill="#fff" stroke="#000" stroke-width="1.7"/>
<rect x="67.15" y="744.1" width="20.15" height="12.9" fill="#fff" stroke="#000" stroke-width="1.7"/>
<rect x="67.15" y="773.35" width="20.15" height="12.9" fill="#fff" stroke="#000" stroke-width="1.7"/>
<rect x="67.15" y="802.6" width="20.15" height="12.9" fill="#fff" stroke="#000" stroke-width="1.7"/>
<rect x="243.3" y="597.85" width="19.55" height="12.9" fill="#fff" stroke="#000" stroke-width="1.7"/>
<rect x="243.3" y="627.1" width="19.55" height="12.9" fill="#fff" stroke="#000" stroke-width="1.7"/>
<rect x="243.3" y="656.35" width="19.55" height="12.9" fill="#fff" stroke="#000" stroke-width="1.7"/>
<rect x="243.3" y="685.6" width="19.55" height="12.9" fill="#fff" stroke="#000" stroke-width="1.7"/>
<rect x="243.3" y="714.85" width="19.55" height="12.9" fill="#fff" stroke="#000" stroke-width="1.7"/>
<rect x="243.3" y="744.1" width="19.55" height="12.9" fill="#fff" stroke="#000" stroke-width="1.7"/>
<rect x="243.3" y="773.35" width="19.55" height="12.9" fill="#fff" stroke="#000" stroke-width="1.7"/>
<rect x="243.3" y="802.6" width="19.55" height="12.9" fill="#fff" stroke="#000" stroke-width="1.7"/>
<rect x="87.3" y="583.2" width="156" height="240.5" fill="#fff" stroke="#000" stroke-width="2.6"/>
<circle cx="103" cy="599.7" r="4" fill="#000"/>
<line x1="87.3" y1="722.9" x2="121.8" y2="722.9" stroke="#000" stroke-width="1.7"/>
<line x1="141.7" y1="722.9" x2="163.3" y2="722.9" stroke="#000" stroke-width="1.7"/>
<line x1="171.1" y1="722.9" x2="191.9" y2="722.9" stroke="#000" stroke-width="1.7"/>
<line x1="211.8" y1="722.9" x2="243.3" y2="724.3" stroke="#000" stroke-width="1.7"/>
<polygon points="121.36,711.14 141.9,723.2 121.36,735.26" fill="#fff" stroke="#000" stroke-width="1.6" stroke-linejoin="miter"/>
<polygon points="191.46,711.14 212,723.2 191.46,735.26" fill="#fff" stroke="#000" stroke-width="1.6" stroke-linejoin="miter"/>
<rect x="161.9" y="711.5" width="10.2" height="23.3" fill="#000" stroke="none" stroke-width="0"/>
<line x1="87.3" y1="752.2" x2="121.8" y2="751.3" stroke="#000" stroke-width="1.7"/>
<line x1="141.7" y1="751.3" x2="163.3" y2="751.3" stroke="#000" stroke-width="1.7"/>
<line x1="171.1" y1="751.3" x2="191.9" y2="751.3" stroke="#000" stroke-width="1.7"/>
<line x1="211.8" y1="751.3" x2="243.3" y2="752.6" stroke="#000" stroke-width="1.7"/>
<polygon points="121.36,739.24 141.9,751.3 121.36,763.36" fill="#fff" stroke="#000" stroke-width="1.6" stroke-linejoin="miter"/>
<polygon points="191.46,739.24 212,751.3 191.46,763.36" fill="#fff" stroke="#000" stroke-width="1.6" stroke-linejoin="miter"/>
<rect x="161.9" y="739.4" width="10.2" height="23.4" fill="#000" stroke="none" stroke-width="0"/>
<rect x="163.88" y="583" width="6.65" height="240.3" fill="#969696" stroke="#000" stroke-width="1.15"/>
<text x="34.8" y="609.5" font-size="12.8" textLength="23.8" lengthAdjust="spacingAndGlyphs">VDD</text>
<text x="63.3" y="611.1" font-size="8.3" text-anchor="end">1</text>
<text x="36.4" y="638.9" font-size="12.8" textLength="26.1" lengthAdjust="spacingAndGlyphs">GND</text>
<text x="44.9" y="667.8" font-size="12.8" textLength="17.6" lengthAdjust="spacingAndGlyphs">NC</text>
<text x="44.3" y="696.7" font-size="12.8" textLength="17.8" lengthAdjust="spacingAndGlyphs">NC</text>
<text x="43.7" y="726" font-size="12.8" textLength="20.4" lengthAdjust="spacingAndGlyphs">INA</text>
<text x="43.7" y="754.8" font-size="12.8" textLength="20.8" lengthAdjust="spacingAndGlyphs">INB</text>
<text x="44.3" y="783.7" font-size="12.8" textLength="17.8" lengthAdjust="spacingAndGlyphs">NC</text>
<text x="34.4" y="813.3" font-size="12.8" textLength="24.8" lengthAdjust="spacingAndGlyphs">GND</text>
<text x="63.9" y="814.9" font-size="8.3" text-anchor="end">1</text>
<text x="267.1" y="610.3" font-size="12.8" textLength="24.3" lengthAdjust="spacingAndGlyphs">VDD</text>
<text x="296.1" y="611.9" font-size="8.3" text-anchor="end">2</text>
<text x="267.1" y="639.3" font-size="12.8" textLength="25.9" lengthAdjust="spacingAndGlyphs">GND</text>
<text x="297.7" y="640.9" font-size="8.3" text-anchor="end">2</text>
<text x="269.1" y="666.8" font-size="12.8" textLength="16.2" lengthAdjust="spacingAndGlyphs">NC</text>
<text x="269.1" y="697.7" font-size="12.8" textLength="16.2" lengthAdjust="spacingAndGlyphs">NC</text>
<text x="266.7" y="725.8" font-size="12.8" textLength="33.2" lengthAdjust="spacingAndGlyphs">OUTA</text>
<text x="267.1" y="754.8" font-size="12.8" textLength="33.7" lengthAdjust="spacingAndGlyphs">OUTB</text>
<text x="269.1" y="783.7" font-size="12.8" textLength="16.8" lengthAdjust="spacingAndGlyphs">NC</text>
<text x="268.1" y="814.7" font-size="12.8" textLength="26.3" lengthAdjust="spacingAndGlyphs">GND</text>
<text x="299.1" y="816.3" font-size="8.3" text-anchor="end">2</text>
<text x="79.9" y="608.9" font-size="12.6" text-anchor="middle" textLength="7.01" lengthAdjust="spacingAndGlyphs">1</text>
<text x="79.9" y="637.9" font-size="12.6" text-anchor="middle" textLength="7.01" lengthAdjust="spacingAndGlyphs">2</text>
<text x="79.9" y="667.8" font-size="12.6" text-anchor="middle" textLength="7.01" lengthAdjust="spacingAndGlyphs">3</text>
<text x="79.9" y="696.7" font-size="12.6" text-anchor="middle" textLength="7.01" lengthAdjust="spacingAndGlyphs">4</text>
<text x="79.9" y="725.7" font-size="12.6" text-anchor="middle" textLength="7.01" lengthAdjust="spacingAndGlyphs">5</text>
<text x="79.9" y="754.6" font-size="12.6" text-anchor="middle" textLength="7.01" lengthAdjust="spacingAndGlyphs">6</text>
<text x="79.9" y="784.7" font-size="12.6" text-anchor="middle" textLength="7.01" lengthAdjust="spacingAndGlyphs">7</text>
<text x="79.9" y="813.7" font-size="12.6" text-anchor="middle" textLength="7.01" lengthAdjust="spacingAndGlyphs">8</text>
<text x="253.7" y="609.9" font-size="12.6" text-anchor="middle" textLength="14.02" lengthAdjust="spacingAndGlyphs">16</text>
<text x="253.7" y="638.9" font-size="12.6" text-anchor="middle" textLength="14.02" lengthAdjust="spacingAndGlyphs">15</text>
<text x="253.7" y="668.4" font-size="12.6" text-anchor="middle" textLength="14.02" lengthAdjust="spacingAndGlyphs">14</text>
<text x="253.7" y="697.7" font-size="12.6" text-anchor="middle" textLength="14.02" lengthAdjust="spacingAndGlyphs">13</text>
<text x="253.7" y="727.1" font-size="12.6" text-anchor="middle" textLength="14.02" lengthAdjust="spacingAndGlyphs">12</text>
<text x="253.7" y="756" font-size="12.6" text-anchor="middle" textLength="13.08" lengthAdjust="spacingAndGlyphs">11</text>
<text x="253.7" y="784.7" font-size="12.6" text-anchor="middle" textLength="14.02" lengthAdjust="spacingAndGlyphs">10</text>
<text x="251.3" y="813" font-size="12.6" text-anchor="middle" textLength="7.01" lengthAdjust="spacingAndGlyphs">9</text>
<text x="182.4" y="816.7" font-size="12" textLength="46.3" lengthAdjust="spacingAndGlyphs">NSI8220</text>
<rect x="358.35" y="599.85" width="19.85" height="12.9" fill="#fff" stroke="#000" stroke-width="1.7"/>
<rect x="358.35" y="629.05" width="19.85" height="12.9" fill="#fff" stroke="#000" stroke-width="1.7"/>
<rect x="358.35" y="658.25" width="19.85" height="12.9" fill="#fff" stroke="#000" stroke-width="1.7"/>
<rect x="358.35" y="687.45" width="19.85" height="12.9" fill="#fff" stroke="#000" stroke-width="1.7"/>
<rect x="358.35" y="716.65" width="19.85" height="12.9" fill="#fff" stroke="#000" stroke-width="1.7"/>
<rect x="358.35" y="745.85" width="19.85" height="12.9" fill="#fff" stroke="#000" stroke-width="1.7"/>
<rect x="358.35" y="775.05" width="19.85" height="12.9" fill="#fff" stroke="#000" stroke-width="1.7"/>
<rect x="358.35" y="804.25" width="19.85" height="12.9" fill="#fff" stroke="#000" stroke-width="1.7"/>
<rect x="532.1" y="599.85" width="20.75" height="12.9" fill="#fff" stroke="#000" stroke-width="1.7"/>
<rect x="532.1" y="629.05" width="20.75" height="12.9" fill="#fff" stroke="#000" stroke-width="1.7"/>
<rect x="532.1" y="658.25" width="20.75" height="12.9" fill="#fff" stroke="#000" stroke-width="1.7"/>
<rect x="532.1" y="687.45" width="20.75" height="12.9" fill="#fff" stroke="#000" stroke-width="1.7"/>
<rect x="532.1" y="716.65" width="20.75" height="12.9" fill="#fff" stroke="#000" stroke-width="1.7"/>
<rect x="532.1" y="745.85" width="20.75" height="12.9" fill="#fff" stroke="#000" stroke-width="1.7"/>
<rect x="532.1" y="775.05" width="20.75" height="12.9" fill="#fff" stroke="#000" stroke-width="1.7"/>
<rect x="532.1" y="804.25" width="20.75" height="12.9" fill="#fff" stroke="#000" stroke-width="1.7"/>
<rect x="378.2" y="585.7" width="153.9" height="239" fill="#fff" stroke="#000" stroke-width="2.6"/>
<circle cx="393.8" cy="601.5" r="4" fill="#000"/>
<line x1="378.2" y1="722.6" x2="417.2" y2="722.6" stroke="#000" stroke-width="1.7"/>
<line x1="436.7" y1="722.6" x2="455.9" y2="722.6" stroke="#000" stroke-width="1.7"/>
<line x1="463.9" y1="722.6" x2="488" y2="722.6" stroke="#000" stroke-width="1.7"/>
<line x1="507.8" y1="722.6" x2="532.1" y2="722.6" stroke="#000" stroke-width="1.7"/>
<polygon points="437.14,710.54 417,722.6 437.14,734.66" fill="#fff" stroke="#000" stroke-width="1.6" stroke-linejoin="miter"/>
<polygon points="508.24,710.54 487.8,722.6 508.24,734.66" fill="#fff" stroke="#000" stroke-width="1.6" stroke-linejoin="miter"/>
<rect x="454.1" y="710.9" width="10.6" height="23.3" fill="#000" stroke="none" stroke-width="0"/>
<line x1="378.2" y1="753.9" x2="418.4" y2="752.8" stroke="#000" stroke-width="1.7"/>
<line x1="437.7" y1="752.8" x2="455.9" y2="752.8" stroke="#000" stroke-width="1.7"/>
<line x1="463.9" y1="752.8" x2="489.9" y2="752.8" stroke="#000" stroke-width="1.7"/>
<line x1="509.2" y1="752.8" x2="532.1" y2="752.8" stroke="#000" stroke-width="1.7"/>
<polygon points="417.96,740.74 437.9,752.8 417.96,764.86" fill="#fff" stroke="#000" stroke-width="1.6" stroke-linejoin="miter"/>
<polygon points="489.46,740.74 509.4,752.8 489.46,764.86" fill="#fff" stroke="#000" stroke-width="1.6" stroke-linejoin="miter"/>
<rect x="454.1" y="740.8" width="10.6" height="24" fill="#000" stroke="none" stroke-width="0"/>
<rect x="456.47" y="585.5" width="6.85" height="238.8" fill="#969696" stroke="#000" stroke-width="1.15"/>
<text x="324.8" y="610.3" font-size="12.8" textLength="23.8" lengthAdjust="spacingAndGlyphs">VDD</text>
<text x="353.3" y="611.9" font-size="8.3" text-anchor="end">1</text>
<text x="324.4" y="639.9" font-size="12.8" textLength="25.6" lengthAdjust="spacingAndGlyphs">GND</text>
<text x="354.7" y="641.5" font-size="8.3" text-anchor="end">1</text>
<text x="337.7" y="668.8" font-size="12.8" textLength="16.8" lengthAdjust="spacingAndGlyphs">NC</text>
<text x="337.7" y="697.7" font-size="12.8" textLength="16.8" lengthAdjust="spacingAndGlyphs">NC</text>
<text x="319.8" y="727" font-size="12.8" textLength="33.1" lengthAdjust="spacingAndGlyphs">OUTA</text>
<text x="330.4" y="756.8" font-size="12.8" textLength="21.1" lengthAdjust="spacingAndGlyphs">INB</text>
<text x="335.3" y="786.3" font-size="12.8" textLength="17.2" lengthAdjust="spacingAndGlyphs">NC</text>
<text x="324.4" y="814.7" font-size="12.8" textLength="25.2" lengthAdjust="spacingAndGlyphs">GND</text>
<text x="354.3" y="816.3" font-size="8.3" text-anchor="end">1</text>
<text x="556.7" y="611.9" font-size="12.8" textLength="24.3" lengthAdjust="spacingAndGlyphs">VDD</text>
<text x="585.7" y="613.5" font-size="8.3" text-anchor="end">2</text>
<text x="556.7" y="640.3" font-size="12.8" textLength="26.3" lengthAdjust="spacingAndGlyphs">GND</text>
<text x="587.7" y="641.9" font-size="8.3" text-anchor="end">2</text>
<text x="558.1" y="669.2" font-size="12.8" textLength="16.6" lengthAdjust="spacingAndGlyphs">NC</text>
<text x="558.1" y="698.7" font-size="12.8" textLength="16.6" lengthAdjust="spacingAndGlyphs">NC</text>
<text x="559.1" y="727.8" font-size="12.8" textLength="20.2" lengthAdjust="spacingAndGlyphs">INA</text>
<text x="556.7" y="756.8" font-size="12.8" textLength="33.6" lengthAdjust="spacingAndGlyphs">OUTB</text>
<text x="559.1" y="785.7" font-size="12.8" textLength="17.2" lengthAdjust="spacingAndGlyphs">NC</text>
<text x="558.1" y="816.1" font-size="12.8" textLength="25.7" lengthAdjust="spacingAndGlyphs">GND</text>
<text x="588.5" y="817.7" font-size="8.3" text-anchor="end">2</text>
<text x="370.9" y="610.9" font-size="12.6" text-anchor="middle" textLength="7.01" lengthAdjust="spacingAndGlyphs">1</text>
<text x="370.9" y="639.9" font-size="12.6" text-anchor="middle" textLength="7.01" lengthAdjust="spacingAndGlyphs">2</text>
<text x="370.9" y="669.8" font-size="12.6" text-anchor="middle" textLength="7.01" lengthAdjust="spacingAndGlyphs">3</text>
<text x="370.9" y="698.7" font-size="12.6" text-anchor="middle" textLength="7.01" lengthAdjust="spacingAndGlyphs">4</text>
<text x="370.9" y="727.7" font-size="12.6" text-anchor="middle" textLength="7.01" lengthAdjust="spacingAndGlyphs">5</text>
<text x="370.9" y="756.6" font-size="12.6" text-anchor="middle" textLength="7.01" lengthAdjust="spacingAndGlyphs">6</text>
<text x="370.9" y="786.7" font-size="12.6" text-anchor="middle" textLength="7.01" lengthAdjust="spacingAndGlyphs">7</text>
<text x="370.9" y="815.3" font-size="12.6" text-anchor="middle" textLength="7.01" lengthAdjust="spacingAndGlyphs">8</text>
<text x="540.8" y="610.9" font-size="12.6" text-anchor="middle" textLength="14.02" lengthAdjust="spacingAndGlyphs">16</text>
<text x="540.8" y="639.9" font-size="12.6" text-anchor="middle" textLength="14.02" lengthAdjust="spacingAndGlyphs">15</text>
<text x="540.8" y="669.8" font-size="12.6" text-anchor="middle" textLength="14.02" lengthAdjust="spacingAndGlyphs">14</text>
<text x="540.8" y="698.7" font-size="12.6" text-anchor="middle" textLength="14.02" lengthAdjust="spacingAndGlyphs">13</text>
<text x="540.8" y="727.9" font-size="12.6" text-anchor="middle" textLength="14.02" lengthAdjust="spacingAndGlyphs">12</text>
<text x="540.8" y="757" font-size="12.6" text-anchor="middle" textLength="13.08" lengthAdjust="spacingAndGlyphs">11</text>
<text x="540.8" y="786" font-size="12.6" text-anchor="middle" textLength="14.02" lengthAdjust="spacingAndGlyphs">10</text>
<text x="538.8" y="814.7" font-size="12.6" text-anchor="middle" textLength="7.01" lengthAdjust="spacingAndGlyphs">9</text>
<text x="475.4" y="818.7" font-size="12" textLength="46.9" lengthAdjust="spacingAndGlyphs">NSI8221</text>
<rect x="649.15" y="599.85" width="19.95" height="12.9" fill="#fff" stroke="#000" stroke-width="1.7"/>
<rect x="649.15" y="629.05" width="19.95" height="12.9" fill="#fff" stroke="#000" stroke-width="1.7"/>
<rect x="649.15" y="658.25" width="19.95" height="12.9" fill="#fff" stroke="#000" stroke-width="1.7"/>
<rect x="649.15" y="687.45" width="19.95" height="12.9" fill="#fff" stroke="#000" stroke-width="1.7"/>
<rect x="649.15" y="716.65" width="19.95" height="12.9" fill="#fff" stroke="#000" stroke-width="1.7"/>
<rect x="649.15" y="745.85" width="19.95" height="12.9" fill="#fff" stroke="#000" stroke-width="1.7"/>
<rect x="649.15" y="775.05" width="19.95" height="12.9" fill="#fff" stroke="#000" stroke-width="1.7"/>
<rect x="649.15" y="804.25" width="19.95" height="12.9" fill="#fff" stroke="#000" stroke-width="1.7"/>
<rect x="824.3" y="599.85" width="19.55" height="12.9" fill="#fff" stroke="#000" stroke-width="1.7"/>
<rect x="824.3" y="629.05" width="19.55" height="12.9" fill="#fff" stroke="#000" stroke-width="1.7"/>
<rect x="824.3" y="658.25" width="19.55" height="12.9" fill="#fff" stroke="#000" stroke-width="1.7"/>
<rect x="824.3" y="687.45" width="19.55" height="12.9" fill="#fff" stroke="#000" stroke-width="1.7"/>
<rect x="824.3" y="716.65" width="19.55" height="12.9" fill="#fff" stroke="#000" stroke-width="1.7"/>
<rect x="824.3" y="745.85" width="19.55" height="12.9" fill="#fff" stroke="#000" stroke-width="1.7"/>
<rect x="824.3" y="775.05" width="19.55" height="12.9" fill="#fff" stroke="#000" stroke-width="1.7"/>
<rect x="824.3" y="804.25" width="19.55" height="12.9" fill="#fff" stroke="#000" stroke-width="1.7"/>
<rect x="669.1" y="585.7" width="155.2" height="239" fill="#fff" stroke="#000" stroke-width="2.6"/>
<circle cx="684.4" cy="601.5" r="4" fill="#000"/>
<line x1="669.1" y1="722.8" x2="703.8" y2="722.8" stroke="#000" stroke-width="1.7"/>
<line x1="723.7" y1="722.8" x2="745.6" y2="722.8" stroke="#000" stroke-width="1.7"/>
<line x1="753.6" y1="722.8" x2="773.9" y2="722.8" stroke="#000" stroke-width="1.7"/>
<line x1="793.2" y1="722.8" x2="824.3" y2="723.9" stroke="#000" stroke-width="1.7"/>
<polygon points="703.36,710.74 723.9,722.8 703.36,734.86" fill="#fff" stroke="#000" stroke-width="1.6" stroke-linejoin="miter"/>
<polygon points="773.46,710.74 793.4,722.8 773.46,734.86" fill="#fff" stroke="#000" stroke-width="1.6" stroke-linejoin="miter"/>
<rect x="744.1" y="710.9" width="10" height="23.3" fill="#000" stroke="none" stroke-width="0"/>
<line x1="669.1" y1="751.8" x2="704.4" y2="752.8" stroke="#000" stroke-width="1.7"/>
<line x1="724.1" y1="752.8" x2="745.6" y2="752.8" stroke="#000" stroke-width="1.7"/>
<line x1="753.6" y1="752.8" x2="772.5" y2="752.8" stroke="#000" stroke-width="1.7"/>
<line x1="791.8" y1="752.8" x2="824.3" y2="754.2" stroke="#000" stroke-width="1.7"/>
<polygon points="724.54,740.74 704.2,752.8 724.54,764.86" fill="#fff" stroke="#000" stroke-width="1.6" stroke-linejoin="miter"/>
<polygon points="792.24,740.74 772.3,752.8 792.24,764.86" fill="#fff" stroke="#000" stroke-width="1.6" stroke-linejoin="miter"/>
<rect x="744.1" y="740.8" width="10" height="24" fill="#000" stroke="none" stroke-width="0"/>
<rect x="746.18" y="585.5" width="6.85" height="238.8" fill="#969696" stroke="#000" stroke-width="1.15"/>
<text x="615.4" y="610.3" font-size="12.8" textLength="24.2" lengthAdjust="spacingAndGlyphs">VDD</text>
<text x="644.3" y="611.9" font-size="8.3" text-anchor="end">1</text>
<text x="613.8" y="639.9" font-size="12.8" textLength="25.8" lengthAdjust="spacingAndGlyphs">GND</text>
<text x="644.3" y="641.5" font-size="8.3" text-anchor="end">1</text>
<text x="627.3" y="668.8" font-size="12.8" textLength="17.2" lengthAdjust="spacingAndGlyphs">NC</text>
<text x="627.3" y="697.7" font-size="12.8" textLength="17.2" lengthAdjust="spacingAndGlyphs">NC</text>
<text x="622.9" y="727.8" font-size="12.8" textLength="20" lengthAdjust="spacingAndGlyphs">INA</text>
<text x="609.8" y="756.8" font-size="12.8" textLength="33.1" lengthAdjust="spacingAndGlyphs">OUTB</text>
<text x="627.3" y="785.7" font-size="12.8" textLength="17.2" lengthAdjust="spacingAndGlyphs">NC</text>
<text x="615.8" y="815.7" font-size="12.8" textLength="25.8" lengthAdjust="spacingAndGlyphs">GND</text>
<text x="646.3" y="817.3" font-size="8.3" text-anchor="end">1</text>
<text x="847.1" y="611.9" font-size="12.8" textLength="24.2" lengthAdjust="spacingAndGlyphs">VDD</text>
<text x="876" y="613.5" font-size="8.3" text-anchor="end">2</text>
<text x="848.1" y="640.9" font-size="12.8" textLength="25.8" lengthAdjust="spacingAndGlyphs">GND</text>
<text x="878.6" y="642.5" font-size="8.3" text-anchor="end">2</text>
<text x="849.5" y="668.8" font-size="12.8" textLength="16.8" lengthAdjust="spacingAndGlyphs">NC</text>
<text x="849.5" y="698.3" font-size="12.8" textLength="16.8" lengthAdjust="spacingAndGlyphs">NC</text>
<text x="848.1" y="727.8" font-size="12.8" textLength="32.5" lengthAdjust="spacingAndGlyphs">OUTA</text>
<text x="849.1" y="756.8" font-size="12.8" textLength="20.6" lengthAdjust="spacingAndGlyphs">INB</text>
<text x="850.5" y="785.7" font-size="12.8" textLength="16.8" lengthAdjust="spacingAndGlyphs">NC</text>
<text x="849.5" y="816.1" font-size="12.8" textLength="25.4" lengthAdjust="spacingAndGlyphs">GND</text>
<text x="879.6" y="817.7" font-size="8.3" text-anchor="end">2</text>
<text x="660.9" y="610.9" font-size="12.6" text-anchor="middle" textLength="7.01" lengthAdjust="spacingAndGlyphs">1</text>
<text x="660.9" y="639.9" font-size="12.6" text-anchor="middle" textLength="7.01" lengthAdjust="spacingAndGlyphs">2</text>
<text x="660.9" y="669.8" font-size="12.6" text-anchor="middle" textLength="7.01" lengthAdjust="spacingAndGlyphs">3</text>
<text x="660.9" y="698.7" font-size="12.6" text-anchor="middle" textLength="7.01" lengthAdjust="spacingAndGlyphs">4</text>
<text x="660.9" y="727.7" font-size="12.6" text-anchor="middle" textLength="7.01" lengthAdjust="spacingAndGlyphs">5</text>
<text x="660.9" y="756.6" font-size="12.6" text-anchor="middle" textLength="7.01" lengthAdjust="spacingAndGlyphs">6</text>
<text x="660.9" y="786.7" font-size="12.6" text-anchor="middle" textLength="7.01" lengthAdjust="spacingAndGlyphs">7</text>
<text x="660.9" y="815.3" font-size="12.6" text-anchor="middle" textLength="7.01" lengthAdjust="spacingAndGlyphs">8</text>
<text x="833.7" y="611.3" font-size="12.6" text-anchor="middle" textLength="14.02" lengthAdjust="spacingAndGlyphs">16</text>
<text x="833.7" y="640.5" font-size="12.6" text-anchor="middle" textLength="14.02" lengthAdjust="spacingAndGlyphs">15</text>
<text x="833.7" y="669.8" font-size="12.6" text-anchor="middle" textLength="14.02" lengthAdjust="spacingAndGlyphs">14</text>
<text x="833.7" y="699.3" font-size="12.6" text-anchor="middle" textLength="14.02" lengthAdjust="spacingAndGlyphs">13</text>
<text x="833.7" y="728.7" font-size="12.6" text-anchor="middle" textLength="14.02" lengthAdjust="spacingAndGlyphs">12</text>
<text x="833.7" y="757.8" font-size="12.6" text-anchor="middle" textLength="13.08" lengthAdjust="spacingAndGlyphs">11</text>
<text x="833.7" y="786.6" font-size="12.6" text-anchor="middle" textLength="14.02" lengthAdjust="spacingAndGlyphs">10</text>
<text x="832" y="815.3" font-size="12.6" text-anchor="middle" textLength="7.01" lengthAdjust="spacingAndGlyphs">9</text>
<text x="765.4" y="819.7" font-size="12" textLength="46.5" lengthAdjust="spacingAndGlyphs">NSI8222</text>
<text x="53.61" y="219.1" font-size="32.8" textLength="81.45" lengthAdjust="spacingAndGlyphs"><tspan font-size="32.8">F</tspan><tspan font-size="30.6">igure</tspan></text>
<text x="143.85" y="219.1" font-size="32.8" textLength="23.52" lengthAdjust="spacingAndGlyphs"><tspan font-size="32.8">1.</tspan></text>
<text x="173.39" y="219.1" font-size="32.8" textLength="146.71" lengthAdjust="spacingAndGlyphs"><tspan font-size="32.8">NSI822</tspan><tspan font-size="30.6">x</tspan><tspan font-size="32.8">N</tspan><tspan font-size="30.6">x</tspan></text>
<text x="328.26" y="219.1" font-size="32.8" textLength="78.52" lengthAdjust="spacingAndGlyphs"><tspan font-size="32.8">SOP8</tspan></text>
<text x="413.6" y="219.1" font-size="32.8" textLength="9.8" lengthAdjust="spacingAndGlyphs"><tspan font-size="32.8">/</tspan></text>
<text x="428.86" y="219.1" font-size="32.8" textLength="154.73" lengthAdjust="spacingAndGlyphs"><tspan font-size="32.8">NSI822</tspan><tspan font-size="30.6">x</tspan><tspan font-size="32.8">W</tspan><tspan font-size="30.6">x</tspan></text>
<text x="590.85" y="219.1" font-size="32.8" textLength="87.85" lengthAdjust="spacingAndGlyphs"><tspan font-size="32.8">SOW8</tspan></text>
<text x="684.09" y="219.1" font-size="32.8" textLength="71.06" lengthAdjust="spacingAndGlyphs"><tspan font-size="32.8">B</tspan><tspan font-size="30.6">lock</tspan></text>
<text x="349.04" y="255.2" font-size="32.8" textLength="111.69" lengthAdjust="spacingAndGlyphs"><tspan font-size="32.8">D</tspan><tspan font-size="30.6">iagram</tspan></text>
<text x="114.93" y="561.5" font-size="32.8" textLength="80.71" lengthAdjust="spacingAndGlyphs"><tspan font-size="32.8">F</tspan><tspan font-size="30.6">igure</tspan></text>
<text x="203.79" y="561.5" font-size="32.8" textLength="24.26" lengthAdjust="spacingAndGlyphs"><tspan font-size="32.8">3.</tspan></text>
<text x="234.57" y="561.5" font-size="32.8" textLength="154.22" lengthAdjust="spacingAndGlyphs"><tspan font-size="32.8">NSI822</tspan><tspan font-size="30.6">x</tspan><tspan font-size="32.8">W</tspan><tspan font-size="30.6">x</tspan></text>
<text x="396.26" y="561.5" font-size="32.8" textLength="70.34" lengthAdjust="spacingAndGlyphs"><tspan font-size="32.8">SOW</tspan></text>
<text x="469.73" y="561.5" font-size="32.8" textLength="30.27" lengthAdjust="spacingAndGlyphs"><tspan font-size="32.8">16</tspan></text>
<text x="506.74" y="561.5" font-size="32.8" textLength="69.72" lengthAdjust="spacingAndGlyphs"><tspan font-size="32.8">B</tspan><tspan font-size="30.6">lock</tspan></text>
<text x="584.67" y="561.5" font-size="32.8" textLength="110.12" lengthAdjust="spacingAndGlyphs"><tspan font-size="32.8">D</tspan><tspan font-size="30.6">iagram</tspan></text>
<text x="101.44" y="869" font-size="32.8" textLength="80.61" lengthAdjust="spacingAndGlyphs"><tspan font-size="32.8">F</tspan><tspan font-size="30.6">igure</tspan></text>
<text x="189.43" y="869" font-size="32.8" textLength="24.45" lengthAdjust="spacingAndGlyphs"><tspan font-size="32.8">4.</tspan></text>
<text x="220.47" y="869" font-size="32.8" textLength="154.12" lengthAdjust="spacingAndGlyphs"><tspan font-size="32.8">NSI822</tspan><tspan font-size="30.6">x</tspan><tspan font-size="32.8">W</tspan><tspan font-size="30.6">x</tspan></text>
<text x="382.44" y="869" font-size="32.8" textLength="99.66" lengthAdjust="spacingAndGlyphs"><tspan font-size="32.8">SOWW</tspan></text>
<text x="483.96" y="869" font-size="32.8" textLength="29.82" lengthAdjust="spacingAndGlyphs"><tspan font-size="32.8">16</tspan></text>
<text x="520.73" y="869" font-size="32.8" textLength="70.03" lengthAdjust="spacingAndGlyphs"><tspan font-size="32.8">B</tspan><tspan font-size="30.6">lock</tspan></text>
<text x="598.98" y="869" font-size="32.8" textLength="109.71" lengthAdjust="spacingAndGlyphs"><tspan font-size="32.8">D</tspan><tspan font-size="30.6">iagram</tspan></text>
</svg>
<div class="edge"></div>
</body>
</html>
